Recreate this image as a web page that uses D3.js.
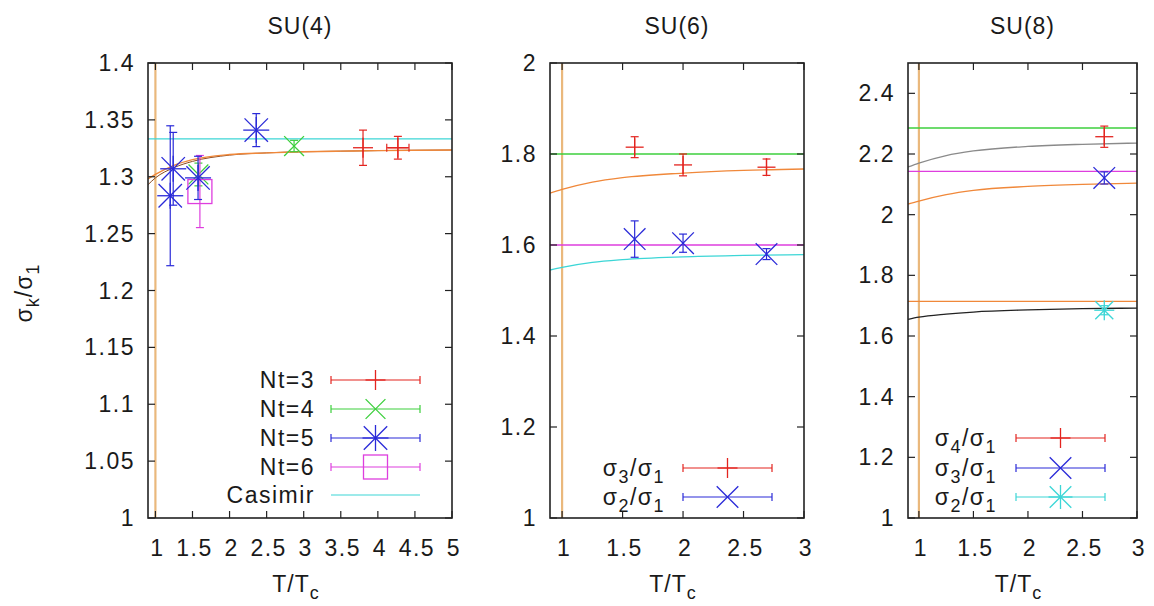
<!DOCTYPE html>
<html>
<head>
<meta charset="utf-8">
<script src="https://cdn.jsdelivr.net/npm/d3@7"></script>
<style>
  html, body { margin: 0; padding: 0; background: #fff; }
  svg { display: block; }
  text { font-family: "Liberation Sans", Arial, Helvetica, sans-serif; fill: #1a1a1a; }
</style>
</head>
<body>
<svg id="chart" width="1154" height="606"></svg>
<script>
// ---- axis ticks ----
const su4XTicks = [1, 1.5, 2, 2.5, 3, 3.5, 4, 4.5, 5];
const su4YTicks = [1, 1.05, 1.1, 1.15, 1.2, 1.25, 1.3, 1.35, 1.4];
const su6XTicks = [1, 1.5, 2, 2.5, 3];
const su6YTicks = [1, 1.2, 1.4, 1.6, 1.8, 2];
const su8XTicks = [1, 1.5, 2, 2.5, 3];
const su8YTicks = [1, 1.2, 1.4, 1.6, 1.8, 2, 2.2, 2.4];

// ---- SU(4): sigma_2/sigma_1 for several Nt ----
const su4Nt3 = [
  { t: 3.80, v: 1.3255, dv: 0.0155, dt: 0 },
  { t: 4.27, v: 1.3255, dv: 0.010, dt: 0.15 }
];
const su4Nt4 = [
  { t: 1.58, v: 1.302, dv: 0.010, dt: 0 },
  { t: 2.87, v: 1.327, dv: 0.005, dt: 0 }
];
const su4Nt5 = [
  { t: 1.20, v: 1.2833, dv: 0.0615, dt: 0 },
  { t: 1.24, v: 1.307, dv: 0.032, dt: 0 },
  { t: 1.575, v: 1.299, dv: 0.019, dt: 0 },
  { t: 2.36, v: 1.341, dv: 0.0145, dt: 0 }
];
const su4Nt6 = [
  { t: 1.60, v: 1.287, dv: 0.0317, dt: 0 }
];
const su4Casimir = 4 / 3;
const su4CurveOrange = [[0.9, 1.298], [1.0, 1.302], [1.25, 1.310], [1.5, 1.315], [2, 1.3195], [2.5, 1.321], [3, 1.322], [3.5, 1.3225], [4, 1.323], [5, 1.3235]];
const su4CurveBrown = [[0.9, 1.293], [1.0, 1.299], [1.25, 1.308], [1.5, 1.3135], [2, 1.319], [2.5, 1.321], [3, 1.322], [3.5, 1.3225], [4, 1.323], [5, 1.3235]];

// ---- SU(6) ----
const su6Sigma3 = [
  { t: 1.60, v: 1.815, dv: 0.023, dt: 0 },
  { t: 2.00, v: 1.776, dv: 0.024, dt: 0 },
  { t: 2.69, v: 1.771, dv: 0.018, dt: 0 }
];
const su6Sigma2 = [
  { t: 1.60, v: 1.613, dv: 0.040, dt: 0 },
  { t: 2.00, v: 1.604, dv: 0.020, dt: 0 },
  { t: 2.69, v: 1.580, dv: 0.012, dt: 0 }
];
const su6Casimir = [1.8, 1.6];
const su6CurveOrange = [[0.9, 1.714], [1.0, 1.722], [1.25, 1.738], [1.5, 1.748], [2, 1.758], [2.5, 1.764], [3, 1.767]];
const su6CurveCyan = [[0.9, 1.545], [1.0, 1.551], [1.25, 1.562], [1.5, 1.568], [2, 1.574], [2.5, 1.577], [3, 1.579]];

// ---- SU(8) ----
const su8Sigma4 = [{ t: 2.70, v: 2.257, dv: 0.035, dt: 0 }];
const su8Sigma3 = [{ t: 2.70, v: 2.121, dv: 0.020, dt: 0 }];
const su8Sigma2 = [{ t: 2.70, v: 1.685, dv: 0.015, dt: 0 }];
const su8Casimir = [16 / 7, 15 / 7, 12 / 7];
const su8CurveGray = [[0.9, 2.157], [1.0, 2.170], [1.25, 2.195], [1.5, 2.210], [2, 2.225], [2.5, 2.232], [3, 2.236]];
const su8CurveOrange = [[0.9, 2.035], [1.0, 2.045], [1.25, 2.066], [1.5, 2.080], [2, 2.093], [2.5, 2.100], [3, 2.104]];
const su8CurveBlack = [[0.9, 1.655], [1.0, 1.662], [1.25, 1.672], [1.5, 1.679], [2, 1.686], [2.5, 1.690], [3, 1.692]];

// ---- colours ----
const C = {
  red: "#e3241f",
  green: "#3ccf3c",
  blue: "#2a2ad8",
  magenta: "#de3ede",
  cyan: "#3cd6d6",
  orange: "#f0883a",
  brown: "#8a4a20",
  gray: "#8a8a8a",
  black: "#222",
  tc: "#eab87c"
};

const svg = d3.select("#chart");
const FONT = 23;

function sigmaText(sel, k) {
  // writes sigma_k / sigma_1 as tspans
  sel.append("tspan").text("σ");
  sel.append("tspan").attr("dy", 7).attr("font-size", FONT * 0.78).text(k);
  sel.append("tspan").attr("dy", -7).text("/σ");
  sel.append("tspan").attr("dy", 7).attr("font-size", FONT * 0.78).text("1");
}

function marker(g, type, cx, cy, r, color) {
  const s = g.append("g").attr("stroke", color).attr("stroke-width", 1.3).attr("fill", "none");
  if (type === "plus" || type === "star") {
    s.append("line").attr("x1", cx - r).attr("x2", cx + r).attr("y1", cy).attr("y2", cy);
    s.append("line").attr("x1", cx).attr("x2", cx).attr("y1", cy - r).attr("y2", cy + r);
  }
  if (type === "cross" || type === "star") {
    const d = r * 0.9;
    s.append("line").attr("x1", cx - d).attr("x2", cx + d).attr("y1", cy - d).attr("y2", cy + d);
    s.append("line").attr("x1", cx - d).attr("x2", cx + d).attr("y1", cy + d).attr("y2", cy - d);
  }
  if (type === "square") {
    s.append("rect").attr("x", cx - r).attr("y", cy - r).attr("width", 2 * r).attr("height", 2 * r);
  }
}

function errorPoints(g, x, y, data, type, r, color) {
  const cap = 4;
  data.forEach(d => {
    const cx = x(d.t), cy = y(d.v);
    const e = g.append("g").attr("stroke", color).attr("stroke-width", 1.2);
    const y0 = y(d.v - d.dv), y1 = y(d.v + d.dv);
    e.append("line").attr("x1", cx).attr("x2", cx).attr("y1", y0).attr("y2", y1);
    e.append("line").attr("x1", cx - cap).attr("x2", cx + cap).attr("y1", y0).attr("y2", y0);
    e.append("line").attr("x1", cx - cap).attr("x2", cx + cap).attr("y1", y1).attr("y2", y1);
    if (d.dt > 0) {
      const x0 = x(d.t - d.dt), x1 = x(d.t + d.dt);
      e.append("line").attr("x1", x0).attr("x2", x1).attr("y1", cy).attr("y2", cy);
      e.append("line").attr("x1", x0).attr("x2", x0).attr("y1", cy - cap).attr("y2", cy + cap);
      e.append("line").attr("x1", x1).attr("x2", x1).attr("y1", cy - cap).attr("y2", cy + cap);
    }
    marker(g, type, cx, cy, r, color);
  });
}

function legendEntry(g, textX, lineX0, lineX1, yy, label, type, r, color) {
  const t = g.append("text").attr("x", textX).attr("y", yy + 8)
    .attr("text-anchor", "end").attr("font-size", FONT).attr("letter-spacing", 1.5);
  if (typeof label === "number") sigmaText(t, label); else t.text(label);
  const l = g.append("g").attr("stroke", color).attr("stroke-width", 1.2);
  l.append("line").attr("x1", lineX0).attr("x2", lineX1).attr("y1", yy).attr("y2", yy);
  if (type) {
    l.append("line").attr("x1", lineX0).attr("x2", lineX0).attr("y1", yy - 4).attr("y2", yy + 4);
    l.append("line").attr("x1", lineX1).attr("x2", lineX1).attr("y1", yy - 4).attr("y2", yy + 4);
    marker(g, type, (lineX0 + lineX1) / 2, yy, r, color);
  }
}

function panel(opts) {
  const { left, right, top, bottom, xDomain, yDomain, xTicks, yTicks, yFmt, title, id } = opts;
  const x = d3.scaleLinear().domain(xDomain).range([left, right]);
  const y = d3.scaleLinear().domain(yDomain).range([bottom, top]);
  const g = svg.append("g");

  g.append("clipPath").attr("id", id).append("rect")
    .attr("x", left).attr("y", top).attr("width", right - left).attr("height", bottom - top);
  const plot = g.append("g").attr("clip-path", `url(#${id})`);

  // ticks (mirrored on all four sides, pointing inward)
  const tk = g.append("g").attr("stroke", "#222").attr("stroke-width", 1.2);
  xTicks.forEach(v => {
    tk.append("line").attr("x1", x(v)).attr("x2", x(v)).attr("y1", bottom).attr("y2", bottom - 7);
    tk.append("line").attr("x1", x(v)).attr("x2", x(v)).attr("y1", top).attr("y2", top + 7);
    g.append("text").attr("x", x(v) + 2).attr("y", 556).attr("text-anchor", "middle")
      .attr("font-size", FONT).attr("letter-spacing", 1.5).text(d3.format("")(v));
  });
  yTicks.forEach(v => {
    tk.append("line").attr("x1", left).attr("x2", left + 7).attr("y1", y(v)).attr("y2", y(v));
    tk.append("line").attr("x1", right).attr("x2", right - 7).attr("y1", y(v)).attr("y2", y(v));
    g.append("text").attr("x", left - 13).attr("y", y(v) + 8).attr("text-anchor", "end")
      .attr("font-size", FONT).attr("letter-spacing", 1.5).text(yFmt(v));
  });

  // title and x label
  g.append("text").attr("x", (left + right) / 2).attr("y", 34).attr("text-anchor", "middle")
    .attr("font-size", FONT).attr("letter-spacing", 1).text(title);
  const xl = g.append("text").attr("x", (left + right) / 2 - 4).attr("y", 592)
    .attr("text-anchor", "middle").attr("font-size", FONT).attr("letter-spacing", 1);
  xl.append("tspan").text("T/T");
  xl.append("tspan").attr("dy", 7).attr("font-size", FONT * 0.78).text("c");

  // vertical line at T = Tc
  plot.append("line").attr("x1", x(1)).attr("x2", x(1)).attr("y1", top).attr("y2", bottom)
    .attr("stroke", C.tc).attr("stroke-width", 2.2);

  return { g, plot, x, y, frame: () =>
    g.append("rect").attr("x", left).attr("y", top).attr("width", right - left).attr("height", bottom - top)
      .attr("fill", "none").attr("stroke", "#222").attr("stroke-width", 1.6) };
}

function hline(p, v, color) {
  const [x0, x1] = p.x.range();
  p.plot.append("line").attr("x1", x0).attr("x2", x1).attr("y1", p.y(v)).attr("y2", p.y(v))
    .attr("stroke", color).attr("stroke-width", 1.3);
}

function curve(p, pts, color, w) {
  const line = d3.line().x(d => p.x(d[0])).y(d => p.y(d[1])).curve(d3.curveMonotoneX);
  p.plot.append("path").datum(pts).attr("d", line).attr("fill", "none")
    .attr("stroke", color).attr("stroke-width", w || 1.3);
}

// ---------- SU(4) ----------
const p4 = panel({ id: "c4", left: 148, right: 452, top: 63, bottom: 518,
  xDomain: [0.9, 5], yDomain: [1, 1.4], xTicks: su4XTicks, yTicks: su4YTicks,
  yFmt: d3.format(""), title: "SU(4)" });
hline(p4, su4Casimir, C.cyan);
curve(p4, su4CurveBrown, C.brown, 1);
curve(p4, su4CurveOrange, C.orange, 1.4);
errorPoints(p4.plot, p4.x, p4.y, su4Nt4, "cross", 11, C.green);
errorPoints(p4.plot, p4.x, p4.y, su4Nt6, "square", 12, C.magenta);
errorPoints(p4.plot, p4.x, p4.y, su4Nt5, "star", 13, C.blue);
errorPoints(p4.plot, p4.x, p4.y, su4Nt3, "plus", 10, C.red);
p4.frame();
legendEntry(p4.g, 315, 331, 420, 380, "Nt=3", "plus", 10, C.red);
legendEntry(p4.g, 315, 331, 420, 409, "Nt=4", "cross", 11, C.green);
legendEntry(p4.g, 315, 331, 420, 438, "Nt=5", "star", 13, C.blue);
legendEntry(p4.g, 315, 331, 420, 467, "Nt=6", "square", 12, C.magenta);
legendEntry(p4.g, 315, 331, 420, 495, "Casimir", null, 0, C.cyan);

// ---------- SU(6) ----------
const p6 = panel({ id: "c6", left: 550, right: 804, top: 63, bottom: 518,
  xDomain: [0.9, 3], yDomain: [1, 2], xTicks: su6XTicks, yTicks: su6YTicks,
  yFmt: d3.format(""), title: "SU(6)" });
hline(p6, su6Casimir[0], C.green);
hline(p6, su6Casimir[1], C.magenta);
curve(p6, su6CurveOrange, C.orange);
curve(p6, su6CurveCyan, C.cyan);
errorPoints(p6.plot, p6.x, p6.y, su6Sigma3, "plus", 9, C.red);
errorPoints(p6.plot, p6.x, p6.y, su6Sigma2, "cross", 12, C.blue);
p6.frame();
legendEntry(p6.g, 665, 683, 772, 468, 3, "plus", 10, C.red);
legendEntry(p6.g, 665, 683, 772, 497, 2, "cross", 12, C.blue);

// ---------- SU(8) ----------
const p8 = panel({ id: "c8", left: 908, right: 1137, top: 63, bottom: 518,
  xDomain: [0.9, 3], yDomain: [1, 2.5], xTicks: su8XTicks, yTicks: su8YTicks,
  yFmt: d3.format(""), title: "SU(8)" });
hline(p8, su8Casimir[0], C.green);
hline(p8, su8Casimir[1], C.magenta);
hline(p8, su8Casimir[2], C.orange);
curve(p8, su8CurveGray, C.gray);
curve(p8, su8CurveOrange, C.orange);
curve(p8, su8CurveBlack, C.black);
errorPoints(p8.plot, p8.x, p8.y, su8Sigma4, "plus", 9, C.red);
errorPoints(p8.plot, p8.x, p8.y, su8Sigma3, "cross", 12, C.blue);
errorPoints(p8.plot, p8.x, p8.y, su8Sigma2, "star", 10, C.cyan);
p8.frame();
legendEntry(p8.g, 997, 1016, 1105, 438, 4, "plus", 10, C.red);
legendEntry(p8.g, 997, 1016, 1105, 468, 3, "cross", 12, C.blue);
legendEntry(p8.g, 997, 1016, 1105, 497, 2, "star", 12, C.cyan);

// ---------- shared y label ----------
const yl = svg.append("text").attr("transform", "translate(32,293) rotate(-90)")
  .attr("text-anchor", "middle").attr("font-size", FONT).attr("letter-spacing", 1);
yl.append("tspan").text("σ");
yl.append("tspan").attr("dy", 7).attr("font-size", FONT * 0.78).text("k");
yl.append("tspan").attr("dy", -7).text("/σ");
yl.append("tspan").attr("dy", 7).attr("font-size", FONT * 0.78).text("1");
</script>
</body>
</html>
